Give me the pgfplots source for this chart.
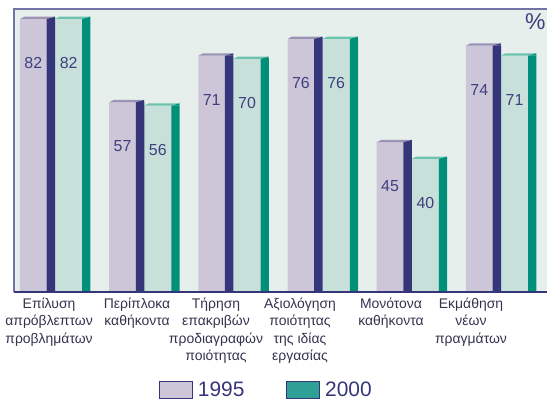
\documentclass[border=0pt]{standalone}
\usepackage{pgfplots}
\pgfplotsset{compat=1.18}
\usepackage{pgfplotstable}
\usepackage{fontspec}
\setmainfont{Liberation Sans}
\definecolor{bg}{HTML}{E6EFEC}
\definecolor{lavF}{HTML}{CDC5D8}
\definecolor{navyS}{HTML}{35357A}
\definecolor{tealF}{HTML}{C8E0DA}
\definecolor{tealS}{HTML}{00907A}
\definecolor{lavT}{HTML}{9C94B6}
\definecolor{tealT}{HTML}{6CC4AE}
\definecolor{txt}{HTML}{3F3F80}
\definecolor{lbl}{HTML}{33334F}
\definecolor{frame}{HTML}{7373A8}
\definecolor{legT}{HTML}{2EA095}

\pgfdeclareplotmark{capA}{%
  \pgfsetfillcolor{lavT}%
  \pgfpathmoveto{\pgfqpoint{-35bp}{0bp}}%
  \pgfpathlineto{\pgfqpoint{-30.5bp}{2.3bp}}%
  \pgfpathlineto{\pgfqpoint{0bp}{2.3bp}}%
  \pgfpathlineto{\pgfqpoint{-8.3bp}{0bp}}%
  \pgfpathclose\pgfusepath{fill}%
  \pgfsetfillcolor{navyS}%
  \pgfpathmoveto{\pgfqpoint{-8.4bp}{0bp}}%
  \pgfpathlineto{\pgfqpoint{0bp}{2.3bp}}%
  \pgfpathlineto{\pgfqpoint{0bp}{0bp}}%
  \pgfpathclose\pgfusepath{fill}%
}
\pgfdeclareplotmark{capB}{%
  \pgfsetfillcolor{tealT}%
  \pgfpathmoveto{\pgfqpoint{0bp}{0bp}}%
  \pgfpathlineto{\pgfqpoint{4.5bp}{2.3bp}}%
  \pgfpathlineto{\pgfqpoint{35.3bp}{2.3bp}}%
  \pgfpathlineto{\pgfqpoint{27.3bp}{0bp}}%
  \pgfpathclose\pgfusepath{fill}%
  \pgfsetfillcolor{tealS}%
  \pgfpathmoveto{\pgfqpoint{27.2bp}{0bp}}%
  \pgfpathlineto{\pgfqpoint{35.3bp}{2.3bp}}%
  \pgfpathlineto{\pgfqpoint{35.3bp}{0bp}}%
  \pgfpathclose\pgfusepath{fill}%
}

\pgfplotstableread{
x v95 v00
0 82 82
1 57 56
2 71 70
3 76 76
4 45 40
5 74 71
}\datatable

\begin{document}
\begin{tikzpicture}
\path[use as bounding box] (0,0) rectangle (547bp,-401bp);
\begin{axis}[
  at={(14bp,-9bp)}, anchor=north west,
  scale only axis, width=533bp, height=283bp,
  xmin=-0.46, xmax=5.516, ymin=0, ymax=85,
  axis line style={draw=none},
  axis background/.style={fill=bg},
  ytick=\empty,
  major tick length=0pt,
  xtick={-0.067,0.92,1.805,2.747,3.767,4.664},
  xticklabels={{Επίλυση\\απρόβλεπτων\\προβλημάτων},{Περίπλοκα\\καθήκοντα},{Τήρηση\\επακριβών\\προδιαγραφών\\ποιότητας},{Αξιολόγηση\\ποιότητας\\της ιδίας\\εργασίας},{Μονότονα\\καθήκοντα},{Εκμάθηση\\νέων\\πραγμάτων}},
  xticklabel style={align=center, font=\fontsize{14}{17.7}\selectfont, text=lbl, yshift=-2bp},
  /pgf/number format/assume math mode=true,
  legend columns=2,
  legend style={draw=none, fill=none, at={(0.4737,-0.346)}, anchor=center,
    font=\fontsize{21}{21}\selectfont, text=navyS,
    /tikz/every even column/.append style={column sep=40bp}},
  clip=false,
]
\addlegendimage{legend image code/.code={\draw[fill=lavF,draw=navyS,line width=0.9bp] (0bp,-8.5bp) rectangle (33bp,8.5bp);\path (36bp,0);}}
\addlegendentry{1995}
\addlegendimage{legend image code/.code={\draw[fill=legT,draw=navyS,line width=0.9bp] (0bp,-8.5bp) rectangle (33bp,8.5bp);\path (36bp,0);}}
\addlegendentry{2000}

\addplot[forget plot, ybar, bar width=0.30, bar shift=-0.243, fill=lavF, draw=none,
  nodes near coords,
  every node near coord/.append style={anchor=center, xshift=-21.7bp, yshift=-44bp, text=txt, font=\fontsize{16}{16}\selectfont}]
  table[x=x,y=v95]{\datatable};
\addplot[forget plot, ybar, bar width=0.306, bar shift=0.153, fill=tealF, draw=none,
  nodes near coords,
  every node near coord/.append style={anchor=center, xshift=13.6bp, yshift=-44bp, text=txt, font=\fontsize{16}{16}\selectfont}]
  table[x=x,y=v00]{\datatable};
\addplot[forget plot, ybar, bar width=0.095, bar shift=-0.047, fill=navyS, draw=none]
  table[x=x,y=v95]{\datatable};
\addplot[forget plot, ybar, bar width=0.092, bar shift=0.351, fill=tealS, draw=none]
  table[x=x,y=v00]{\datatable};
\addplot[forget plot, only marks, mark=capA] table[x=x,y=v95]{\datatable};
\addplot[forget plot, only marks, mark=capB] table[x=x,y=v00]{\datatable};

\draw[frame, line width=1.3bp] (rel axis cs:0,0) -- (rel axis cs:0,1) -- (rel axis cs:1,1);
\draw[navyS, line width=1.5bp] (rel axis cs:0,0) -- (rel axis cs:1,0);
\node[text=txt, font=\fontsize{23}{23}\selectfont] at (rel axis cs:0.978,0.956) {\%};
\end{axis}
\end{tikzpicture}
\end{document}
